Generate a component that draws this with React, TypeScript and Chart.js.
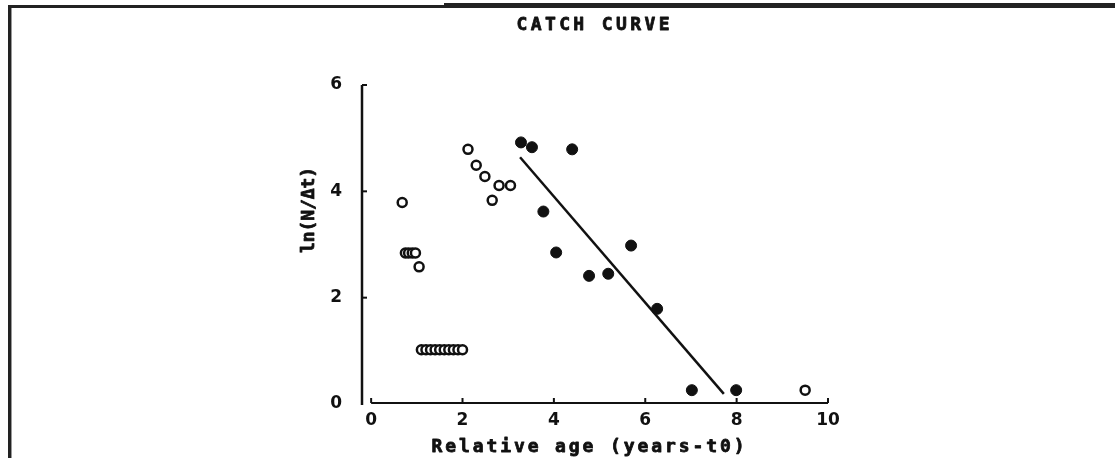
import { useEffect, useRef } from 'react';
import { Chart, registerables } from 'chart.js';

Chart.register(...registerables);

const TITLE = 'CATCH CURVE';
const X_TITLE = 'Relative age (years-t0)';
const Y_TITLE = 'ln(N/Δt)';

const X_TICKS = [0, 2, 4, 6, 8, 10];
const Y_TICKS = [0, 2, 4, 6];

// open circles (not used in regression)
const OPEN_X = [0.68, 0.75, 0.82, 0.9, 0.97, 1.05, 1.1, 1.2, 1.3, 1.4, 1.5, 1.6, 1.7, 1.8, 1.9, 2.0, 2.12, 2.3, 2.49, 2.65, 2.8, 3.05, 9.5];
const OPEN_Y = [3.79, 2.84, 2.84, 2.84, 2.84, 2.58, 1.02, 1.02, 1.02, 1.02, 1.02, 1.02, 1.02, 1.02, 1.02, 1.02, 4.79, 4.49, 4.28, 3.83, 4.11, 4.11, 0.26];

// filled circles (used in regression)
const FILLED_X = [3.28, 3.52, 4.4, 3.77, 4.05, 4.77, 5.19, 5.69, 6.26, 7.02, 7.99];
const FILLED_Y = [4.92, 4.83, 4.79, 3.62, 2.85, 2.41, 2.45, 2.98, 1.79, 0.26, 0.26];

// regression line
const LINE_X = [3.26, 7.72];
const LINE_Y = [4.64, 0.19];

const MONO = '"DejaVu Sans Mono", monospace';
const SANS = '"DejaVu Sans", sans-serif';

function spacedText(ctx: CanvasRenderingContext2D, text: string, x: number, y: number, width: number) {
  (ctx as any).letterSpacing = '0px';
  const w = ctx.measureText(text).width;
  const sp = (width - w) / Math.max(1, text.length - 1);
  (ctx as any).letterSpacing = `${sp}px`;
  ctx.fillText(text, x + sp / 2, y);
  ctx.strokeText(text, x + sp / 2, y);
  (ctx as any).letterSpacing = '0px';
}

const decorations = {
  id: 'decorations',
  beforeDraw(chart: any) {
    const ctx = chart.ctx;
    ctx.save();
    ctx.fillStyle = '#ffffff';
    ctx.fillRect(0, 0, chart.width, chart.height);
    ctx.restore();
  },
  afterDraw(chart: any) {
    const ctx = chart.ctx;
    const xs = chart.scales.x;
    const ys = chart.scales.y;
    ctx.save();
    // frame
    ctx.fillStyle = '#222';
    ctx.fillRect(8, 5, 437, 3);
    ctx.fillRect(444, 3, 671, 5);
    ctx.fillRect(8, 5, 3, chart.height);
    ctx.fillStyle = '#999';
    ctx.fillRect(11, 8, 1, chart.height);

    ctx.strokeStyle = '#111';
    ctx.lineCap = 'butt';
    // y axis
    const yx = chart.chartArea.left;
    ctx.lineWidth = 2.5;
    ctx.beginPath();
    ctx.moveTo(yx, ys.getPixelForValue(6));
    ctx.lineTo(yx, ys.getPixelForValue(0) + 1);
    ctx.stroke();
    ctx.lineWidth = 2;
    Y_TICKS.forEach((v) => {
      if (v === 0) return;
      const py = ys.getPixelForValue(v);
      ctx.beginPath();
      ctx.moveTo(yx, py);
      ctx.lineTo(yx + 5, py);
      ctx.stroke();
    });
    // x axis
    const axy = ys.getPixelForValue(0) - 1;
    ctx.lineWidth = 2;
    ctx.beginPath();
    ctx.moveTo(xs.getPixelForValue(0), axy);
    ctx.lineTo(xs.getPixelForValue(10), axy);
    ctx.stroke();
    X_TICKS.forEach((v) => {
      const px = xs.getPixelForValue(v);
      ctx.beginPath();
      ctx.moveTo(px, axy);
      ctx.lineTo(px, axy - 5);
      ctx.stroke();
    });

    // texts
    ctx.fillStyle = '#111';
    ctx.strokeStyle = '#111';
    ctx.lineWidth = 0.8;
    ctx.lineJoin = 'round';
    ctx.font = `bold 18px ${MONO}`;
    ctx.textAlign = 'center';
    ctx.textBaseline = 'alphabetic';
    spacedText(ctx, TITLE, 593, 30, 153);
    spacedText(ctx, X_TITLE, 588, 452, 313);
    ctx.translate(309, 210);
    ctx.rotate(-Math.PI / 2);
    ctx.textBaseline = 'middle';
    spacedText(ctx, Y_TITLE, 0, 0, 86);
    ctx.restore();
  },
};

export default function App() {
  const ref = useRef<HTMLCanvasElement>(null);
  useEffect(() => {
    document.body.style.margin = '0';
    const pts = (xs: number[], ys: number[]) => xs.map((x, i) => ({ x, y: ys[i] }));
    const chart = new Chart(ref.current!, {
      type: 'scatter',
      data: {
        datasets: [
          {
            type: 'line',
            data: pts(LINE_X, LINE_Y),
            borderColor: '#111',
            borderWidth: 2.5,
            pointRadius: 0,
            fill: false,
            order: 3,
          } as any,
          {
            data: pts(OPEN_X, OPEN_Y),
            backgroundColor: '#ffffff',
            borderColor: '#111',
            borderWidth: 2.5,
            pointRadius: 4.5,
            order: 2,
          },
          {
            data: pts(FILLED_X, FILLED_Y),
            backgroundColor: '#111',
            borderColor: '#111',
            borderWidth: 1,
            pointRadius: 5.5,
            order: 1,
          },
        ],
      },
      options: {
        responsive: false,
        animation: false,
        devicePixelRatio: 1,
        layout: { padding: { top: 85, right: 287, left: 0, bottom: 0 } },
        plugins: { legend: { display: false }, tooltip: { enabled: false }, title: { display: false } },
        scales: {
          x: {
            type: 'linear',
            min: -0.2,
            max: 10,
            grid: { display: false },
            border: { display: false },
            afterBuildTicks: (s: any) => {
              s.ticks = X_TICKS.map((value) => ({ value }));
            },
            afterFit: (s: any) => {
              s.height = 54;
            },
            ticks: {
              padding: -2,
              color: '#111',
              maxRotation: 0,
              font: { family: SANS, weight: 'bold', size: 17 },
            },
          },
          y: {
            type: 'linear',
            min: 0,
            max: 6,
            grid: { display: false },
            border: { display: false },
            afterBuildTicks: (s: any) => {
              s.ticks = Y_TICKS.map((value) => ({ value }));
            },
            afterFit: (s: any) => {
              s.width = 362;
            },
            ticks: {
              padding: 12,
              color: '#111',
              font: { family: SANS, weight: 'bold', size: 17 },
            },
          },
        },
      },
      plugins: [decorations],
    });
    return () => chart.destroy();
  }, []);
  return (
    <div style={{ position: 'fixed', left: 0, top: 0, width: 1115, height: 458, background: '#fff' }}>
      <canvas ref={ref} width={1115} height={458} style={{ width: 1115, height: 458, display: 'block' }} />
    </div>
  );
}
